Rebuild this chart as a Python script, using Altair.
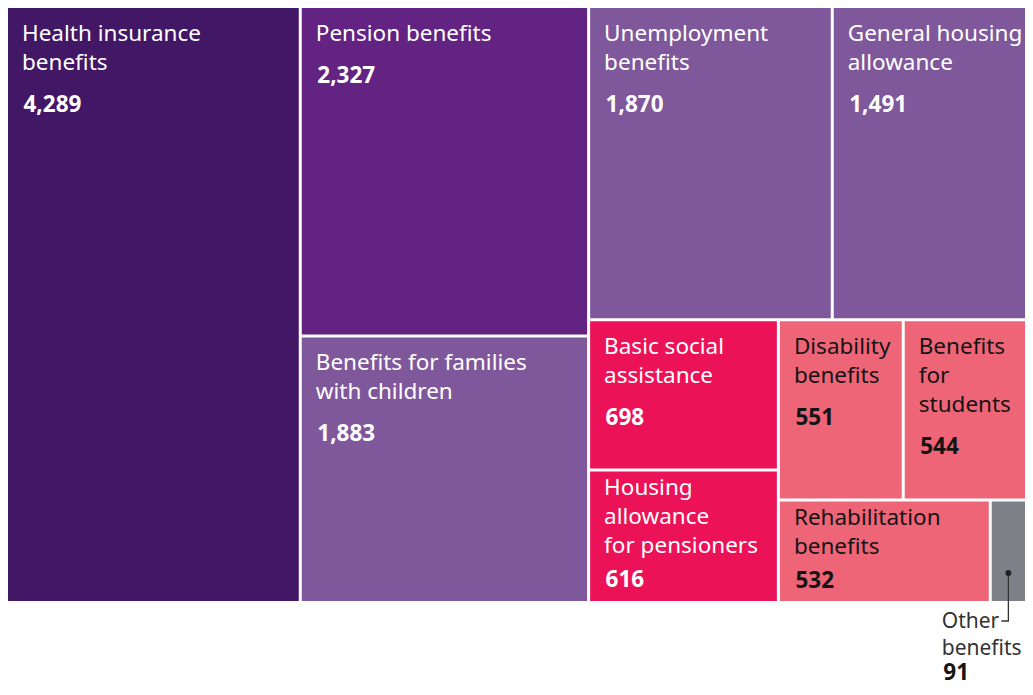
import altair as alt
import pandas as pd

# ---- data ----
names = ["Health insurance benefits", "Pension benefits", "Benefits for families with children",
         "Unemployment benefits", "General housing allowance", "Basic social assistance",
         "Housing allowance for pensioners", "Disability benefits", "Benefits for students",
         "Rehabilitation benefits", "Other benefits"]
labels = ["Health insurance\nbenefits", "Pension benefits", "Benefits for families\nwith children",
          "Unemployment\nbenefits", "General housing\nallowance", "Basic social\nassistance",
          "Housing\nallowance\nfor pensioners", "Disability\nbenefits", "Benefits\nfor\nstudents",
          "Rehabilitation\nbenefits", "Other\nbenefits"]
values = [4289, 2327, 1883, 1870, 1491, 698, 616, 551, 544, 532, 91]
groups = ["A", "B", "C", "C", "C", "D", "D", "E", "E", "E", "F"]

group_domain = ["A", "B", "C", "D", "E", "F"]
group_colors = ["#421766", "#632383", "#7f589b", "#eb1257", "#ef6578", "#7d8087"]
text_colors = {"A": "white", "B": "white", "C": "white", "D": "white", "E": "#141414", "F": "#333333"}

# nesting of the treemap (h = side by side, v = stacked)
tree = ("h", [0, ("v", [1, 2]),
              ("v", [("h", [3, 4]),
                     ("h", [("v", [5, 6]),
                            ("v", [("h", [7, 8]), ("h", [9, 10])])])])])

W, H, G = 1017, 593, 3


def total(node):
    if isinstance(node, int):
        return values[node]
    return sum(total(k) for k in node[1])


rects = {}


def layout(node, x0, y0, x1, y1):
    if isinstance(node, int):
        rects[node] = (x0 + G / 2, y0 + G / 2, x1 - G / 2, y1 - G / 2)
        return
    orient, kids = node
    t = total(node)
    pos = x0 if orient == "h" else y0
    for k in kids:
        frac = total(k) / t
        if orient == "h":
            w = (x1 - x0) * frac
            layout(k, pos, y0, pos + w, y1)
        else:
            w = (y1 - y0) * frac
            layout(k, x0, pos, x1, pos + w)
        pos += w


layout(tree, -G / 2, -G / 2, W + G / 2, H + G / 2)

LH = 29
OLH = 27
rows, lab_rows, val_rows = [], [], []
line_pts, dot_pts = [], []
for i, n in enumerate(names):
    x0, y0, x1, y1 = rects[i]
    rows.append(dict(name=n, group=groups[i], x=x0, x2=x1, y=y0, y2=y1))
    nl = labels[i].count("\n") + 1
    col = text_colors[groups[i]]
    if x1 - x0 < 60:
        # outside label with leader line
        lx = x0 - 50
        ly = y1 + 27
        vy = ly + OLH * (nl - 1) + 25
        cx = (x0 + x1) / 2
        dot_pts.append(dict(x=cx, y=y1 - 28))
        line_pts += [dict(x=cx, y=y1 - 28, o=0), dict(x=cx, y=y1 + 20, o=1), dict(x=cx - 7, y=y1 + 20, o=2)]
        col = "#333333"
        vcol = "#141414"
        lh = OLH
    else:
        lx = x0 + 14
        top, gap = 33, 42
        if y0 + top + LH * (nl - 1) + gap > y1 - 10:
            top, gap = 24, 34
        ly = y0 + top
        vy = ly + LH * (nl - 1) + gap
        vcol = col
        lh = LH
    lab_rows.append(dict(name=n, text=labels[i], x=lx, y=ly, color=col, lh=lh))
    val_rows.append(dict(name=n, value=values[i], x=lx + 1.5, y=vy, color=vcol))

df = pd.DataFrame(rows)
dl = pd.DataFrame(lab_rows)
dv = pd.DataFrame(val_rows)
dline = pd.DataFrame(line_pts)
ddot = pd.DataFrame(dot_pts)

xs = alt.Scale(domain=[0, W], nice=False, zero=False)
ys = alt.Scale(domain=[0, H], nice=False, zero=False, reverse=True)

FONT = "Noto Sans"
FS = 22.5

boxes = alt.Chart(df).mark_rect().encode(
    x=alt.X("x:Q", scale=xs, axis=None),
    x2="x2:Q",
    y=alt.Y("y:Q", scale=ys, axis=None),
    y2="y2:Q",
    color=alt.Color("group:N", scale=alt.Scale(domain=group_domain, range=group_colors), legend=None),
)

inside_labels = alt.Chart(dl[dl.lh == LH]).mark_text(
    align="left", baseline="alphabetic", font=FONT, fontSize=FS, lineHeight=LH, lineBreak="\n"
).encode(
    x=alt.X("x:Q", scale=xs), y=alt.Y("y:Q", scale=ys), text="text:N",
    color=alt.Color("color:N", scale=None),
)

outside_labels = alt.Chart(dl[dl.lh == OLH]).mark_text(
    align="left", baseline="alphabetic", font=FONT, fontSize=21, lineHeight=OLH, lineBreak="\n"
).encode(
    x=alt.X("x:Q", scale=xs), y=alt.Y("y:Q", scale=ys), text="text:N",
    color=alt.Color("color:N", scale=None),
)

value_text = alt.Chart(dv).mark_text(
    align="left", baseline="alphabetic", font=FONT, fontSize=FS, fontWeight="bold"
).encode(
    x=alt.X("x:Q", scale=xs), y=alt.Y("y:Q", scale=ys), text=alt.Text("value:Q", format=","),
    color=alt.Color("color:N", scale=None),
)

leader = alt.Chart(dline).mark_line(color="#333333", strokeWidth=1.3).encode(
    x=alt.X("x:Q", scale=xs), y=alt.Y("y:Q", scale=ys), order="o:Q"
)
dot = alt.Chart(ddot).mark_circle(color="#222222", size=36, opacity=1).encode(
    x=alt.X("x:Q", scale=xs), y=alt.Y("y:Q", scale=ys)
)

chart = alt.layer(boxes, inside_labels, outside_labels, value_text, leader, dot).properties(
    width=W, height=H,
    padding={"left": 0, "top": 0, "right": 0, "bottom": 86},
    autosize=alt.AutoSizeParams(type="none"),
).configure_view(stroke=None)

chart.save("out.html", embed_options={"renderer": "svg", "actions": False})
